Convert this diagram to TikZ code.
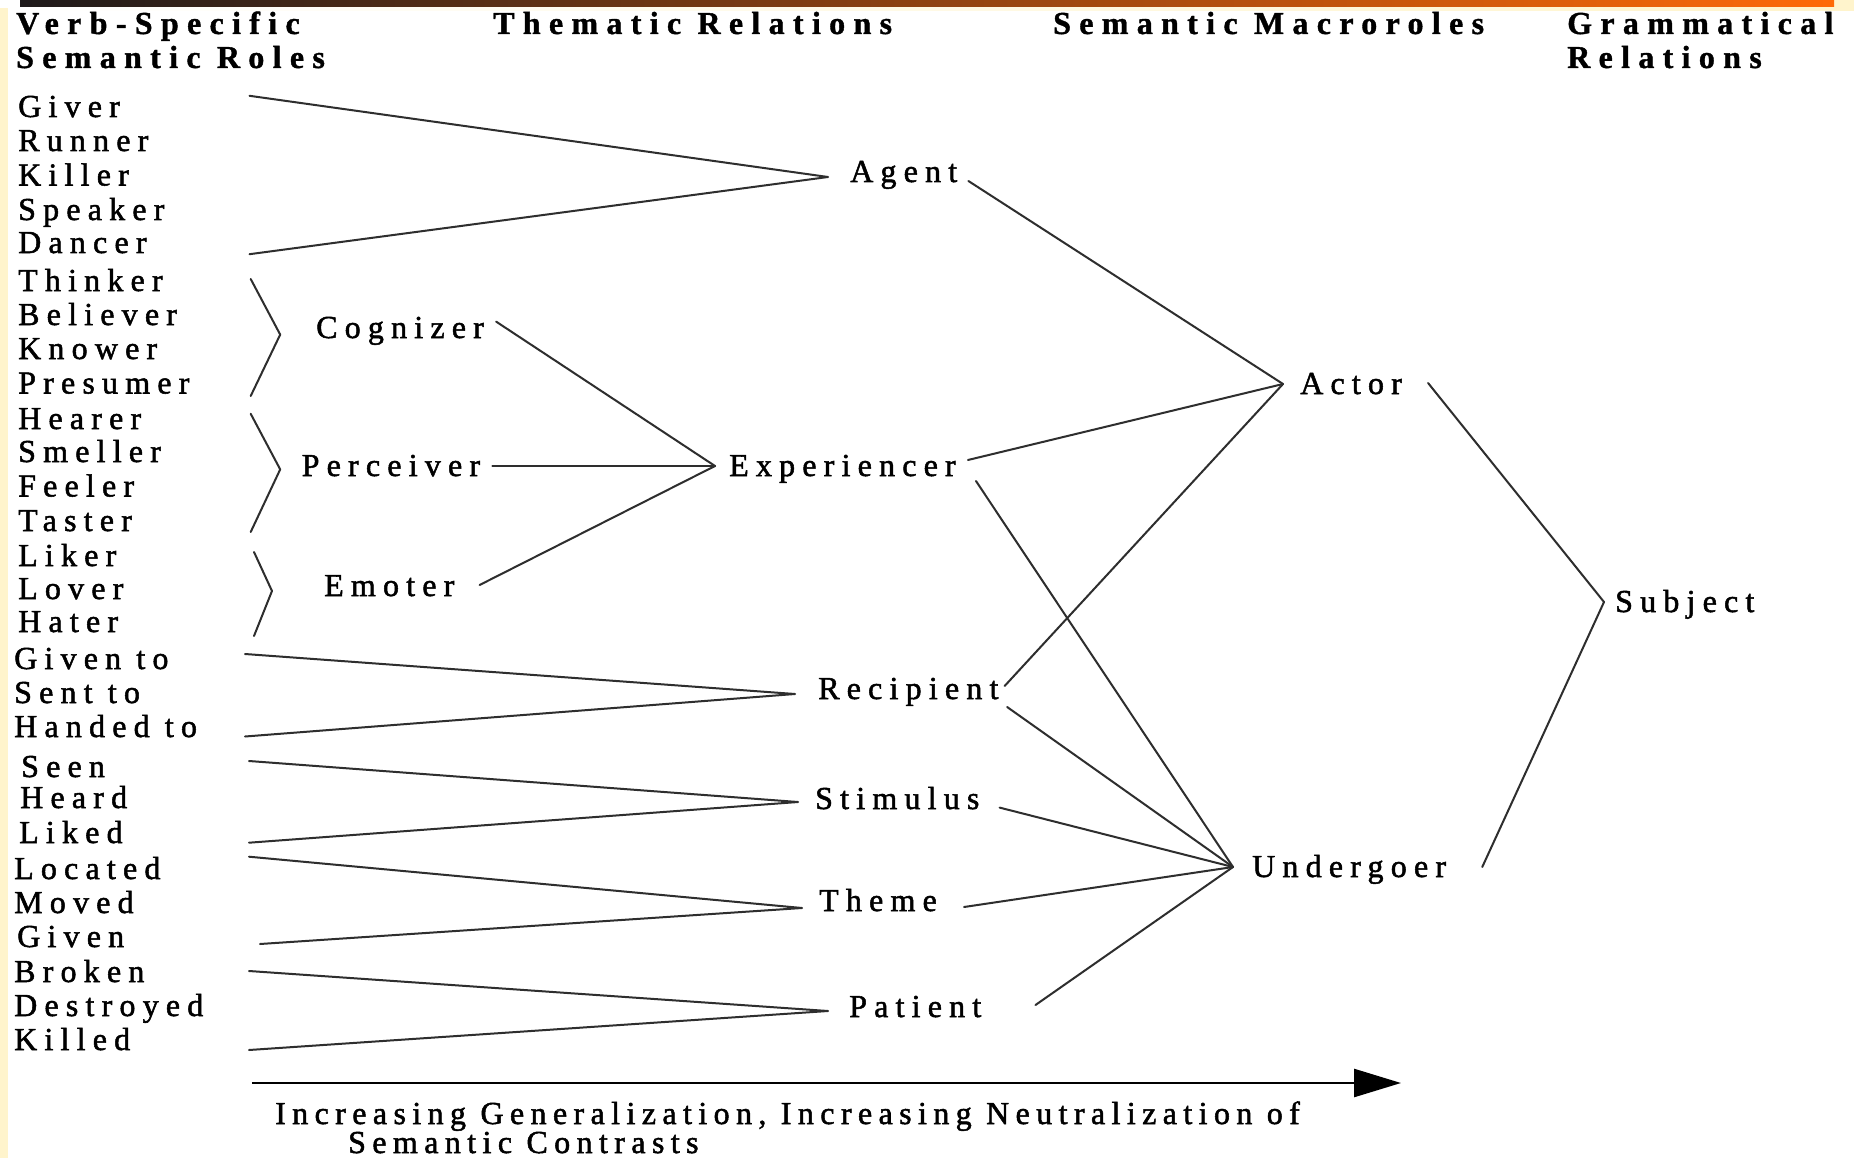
\documentclass[tikz,border=0pt]{standalone}
\usepackage{fontspec}
\setmainfont{Liberation Serif}
\newfontfamily\rolefam{Liberation Serif}[LetterSpace=22.5, FakeBold=1.6]
\newfontfamily\headfam{Liberation Serif}[LetterSpace=26, BoldFeatures={FakeBold=1.2}]
\newfontfamily\capfamily{Liberation Serif}[LetterSpace=20, FakeBold=1.6]
\usetikzlibrary{arrows.meta}

\definecolor{cream}{HTML}{FFF4CC}
\definecolor{barDark}{HTML}{1E1A1A}
\definecolor{barMid}{HTML}{B04A18}
\definecolor{barOrange}{HTML}{FF6A08}

\newcommand\rolefont{\rolefam\fontsize{32}{34}\selectfont}
\newcommand\headfont{\headfam\bfseries\fontsize{32}{34}\selectfont}
\newcommand\captionfont{\capfamily\fontsize{32}{29}\selectfont}

\tikzset{
  role/.style={anchor=base west, inner sep=0pt, font=\rolefont},
  head/.style={anchor=base west, inner sep=0pt, font=\headfont},
  capline/.style={anchor=base west, inner sep=0pt, font=\captionfont},
  link/.style={line width=2pt, draw=black!82, line cap=round, line join=round},
  chevron/.style={link},
  axis/.style={line width=2.6pt, draw=black, -{Triangle[length=47pt,width=28pt]}},
}

\begin{document}
\begin{tikzpicture}[x=1pt,y=-1pt]
  % page frame and decoration
  \useasboundingbox (0,0) rectangle (1854,1158);
  \fill[white] (0,0) rectangle (1854,1158);
  \fill[cream] (0,8) rectangle (8,1158);
  \shade[left color=white, right color=cream] (8,7) rectangle (1854,11);
  \fill[cream] (1834,0) rectangle (1854,11);
  \shade[left color=barDark, middle color=barMid, right color=barOrange] (20,0) rectangle (1834,7);

  % column headings
  \node[head] (hVerb)  at (16,34)   {Verb-Specific};
  \node[head] (hSemR)  at (16,68)   {Semantic Roles};
  \node[head] (hThem)  at (493,34)  {Thematic Relations};
  \node[head] (hMacro) at (1053,34) {Semantic Macroroles};
  \node[head] (hGram)  at (1567,34) {Grammatical};
  \node[head] (hRel)   at (1567,68) {Relations};

  % verb-specific semantic roles
  \foreach \n/\t/\x/\y in {
      giver/Giver/18/117, runner/Runner/18/151, killer/Killer/18/185.5,
      speaker/Speaker/18/220, dancer/Dancer/18/253,
      thinker/Thinker/18/291, believer/Believer/18/325, knower/Knower/18/359,
      presumer/Presumer/18/393.5,
      hearer/Hearer/18/429, smeller/Smeller/18/462, feeler/Feeler/18/496.5,
      taster/Taster/18/531,
      liker/Liker/18/566, lover/Lover/18/599, hater/Hater/18/632,
      givento/Given to/14/669, sentto/Sent to/14/703, handedto/Handed to/14/737,
      seen/Seen/21/777, heard/Heard/20/808, liked/Liked/19/843,
      located/Located/14/879, moved/Moved/14/913, given/Given/17/947,
      broken/Broken/14/982, destroyed/Destroyed/14/1016, killed/Killed/14/1050}
    \node[role] (\n) at (\x,\y) {\t};

  % thematic relations
  \node[role] (cognizer)    at (316,338)   {Cognizer};
  \node[role] (perceiver)   at (301.5,476) {Perceiver};
  \node[role] (emoter)      at (324,596)   {Emoter};
  \node[role] (agent)       at (850,182)   {Agent};
  \node[role] (experiencer) at (729,476)   {Experiencer};
  \node[role] (recipient)   at (818,699)   {Recipient};
  \node[role] (stimulus)    at (815,809)   {Stimulus};
  \node[role] (theme)       at (819,911)   {Theme};
  \node[role] (patient)     at (849,1017)  {Patient};

  % macroroles and grammatical relation
  \node[role] (actor)     at (1300,394)  {Actor};
  \node[role] (undergoer) at (1252,877)  {Undergoer};
  \node[role] (subject)   at (1615,612)  {Subject};

  % junction points
  \coordinate (agentIn)     at ([shift={(-22,-5)}]agent.base west);
  \coordinate (expIn)       at ([shift={(-14,-10)}]experiencer.base west);
  \coordinate (recipIn)     at ([shift={(-23,-5)}]recipient.base west);
  \coordinate (stimIn)      at ([shift={(-17,-7)}]stimulus.base west);
  \coordinate (themeIn)     at ([shift={(-17,-3)}]theme.base west);
  \coordinate (patientIn)   at ([shift={(-21,-6)}]patient.base west);
  \coordinate (actorIn)     at ([shift={(-17,-10)}]actor.base west);
  \coordinate (underIn)     at ([shift={(-19,-10)}]undergoer.base west);
  \coordinate (subjectIn)   at ([shift={(-11,-10)}]subject.base west);

  % free ends of the fans on the left
  \coordinate (agentA)  at (249.5,95.8);
  \coordinate (agentB)  at (249.5,254.2);
  \coordinate (recipA)  at (245,654);
  \coordinate (recipB)  at (245,736.5);
  \coordinate (stimA)   at (249,761);
  \coordinate (stimB)   at (249,842.7);
  \coordinate (themeA)  at (249,856.7);
  \coordinate (themeB)  at (260,944);
  \coordinate (patA)    at (249,971);
  \coordinate (patB)    at (249,1050);

  % fans into the thematic relations
  \draw[link] (agentA) -- (agentIn) -- (agentB);
  \draw[link] (recipA) -- (recipIn) -- (recipB);
  \draw[link] (stimA)  -- (stimIn)  -- (stimB);
  \draw[link] (themeA) -- (themeIn) -- (themeB);
  \draw[link] (patA)   -- (patientIn) -- (patB);

  % groupings of the experiencer roles
  \draw[chevron] (250.7,279) -- (280.2,334.6) -- (250.7,396);
  \draw[chevron] (250.7,413.8) -- (280.2,469.4) -- (250.7,532);
  \draw[chevron] (254,552) -- (272,591) -- (254,636);

  % into Experiencer
  \draw[link] ([shift={(12,-16.4)}]cognizer.base east) -- (expIn);
  \draw[link] ([shift={(12,-10)}]perceiver.base east) -- (expIn);
  \draw[link] ([shift={(25,-11)}]emoter.base east) -- (expIn);

  % into Actor
  \draw[link] ([shift={(11,-1)}]agent.base east) -- (actorIn);
  \draw[link] ([shift={(12,-16)}]experiencer.base east) -- (actorIn);
  \draw[link] ([shift={(6,-13)}]recipient.base east) -- (actorIn);

  % into Undergoer
  \draw[link] ([shift={(20,5)}]experiencer.base east) -- (underIn);
  \draw[link] ([shift={(8.5,8)}]recipient.base east) -- (underIn);
  \draw[link] ([shift={(20,-1.4)}]stimulus.base east) -- (underIn);
  \draw[link] ([shift={(27,-4)}]theme.base east) -- (underIn);
  \draw[link] ([shift={(54,-12)}]patient.base east) -- (underIn);

  % into Subject
  \draw[link] ([shift={(26,-11)}]actor.base east) -- (subjectIn);
  \draw[link] ([shift={(36,-10)}]undergoer.base east) -- (subjectIn);

  % direction of generalization
  \coordinate (axisFrom) at (251.9,1083);
  \coordinate (axisTo)   at (1401,1083);
  \draw[axis] (axisFrom) -- (axisTo);
  \node[capline] (cap1) at (275,1124) {Increasing Generalization, Increasing Neutralization of};
  \node[capline] (cap2) at (348,1153) {Semantic Contrasts};
\end{tikzpicture}
\end{document}
